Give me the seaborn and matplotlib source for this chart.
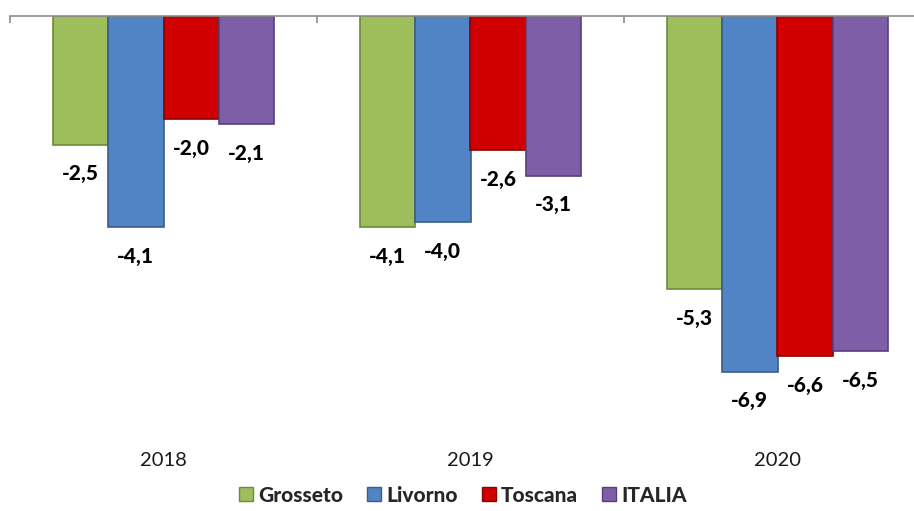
import pandas as pd
import matplotlib.pyplot as plt
import seaborn as sns
from matplotlib.patches import Patch
from matplotlib.ticker import FixedLocator

# Dati
anni = ['2018', '2019', '2020']
aree = ['Grosseto', 'Livorno', 'Toscana', 'ITALIA']
grosseto = [-2.5, -4.1, -5.3]
livorno = [-4.1, -4.0, -6.9]
toscana = [-2.0, -2.6, -6.6]
italia = [-2.1, -3.1, -6.5]
colori = ['#9DBE5B', '#5084C4', '#D00000', '#7D5EA7']
bordi = ['#6E8A3A', '#385D8A', '#8C0000', '#57407A']

serie = [grosseto, livorno, toscana, italia]
righe = []
for area, valori in zip(aree, serie):
    for anno, v in zip(anni, valori):
        righe.append({'anno': anno, 'area': area, 'valore': v})
df = pd.DataFrame(righe)

sns.set_style('white')
plt.rcParams['font.family'] = ['Lato', 'DejaVu Sans']

fig = plt.figure(figsize=(9.14, 5.11), dpi=100)
ax = fig.add_axes([10 / 914, 1 - 444 / 511, 921 / 914, 428 / 511])

sns.barplot(data=df, x='anno', y='valore', hue='area', hue_order=aree,
            order=anni, palette=colori, width=0.72, gap=0, legend=False,
            saturation=1, ax=ax)

for cont, bc in zip(ax.containers, bordi):
    for p in cont:
        p.set_edgecolor(bc)
        p.set_linewidth(1.2)
    etichette = [f"{b.get_height():.1f}".replace('.', ',') for b in cont]
    ax.bar_label(cont, labels=etichette, padding=14, fontsize=15,
                 fontweight='black', color='black')

ax.set_xlim(-0.5, 2.5)
ax.set_ylim(-8.3, 0)
ax.set_xlabel('')
ax.set_ylabel('')
ax.set_yticks([])

for s in ['left', 'right', 'bottom']:
    ax.spines[s].set_visible(False)
ax.spines['top'].set_color('#8C8C8C')
ax.spines['top'].set_linewidth(1.2)

ax.xaxis.set_minor_locator(FixedLocator([-0.5, 0.5, 1.5, 2.5]))
ax.tick_params(axis='x', which='major', bottom=False, top=False,
               labelbottom=True, labelsize=14.5, pad=2, colors='#1a1a1a')
ax.tick_params(axis='x', which='minor', bottom=False, top=True,
               direction='in', length=5, width=1.2, color='#8C8C8C')

maniglie = [Patch(facecolor=c, edgecolor=b, label=a)
            for a, c, b in zip(aree, colori, bordi)]
fig.legend(handles=maniglie, loc='center', bbox_to_anchor=(463 / 914, 1 - 495 / 511),
           ncol=4, frameon=False, handlelength=0.67, handleheight=0.67,
           handletextpad=0.25, columnspacing=1.15,
           prop={'weight': 'black', 'size': 15})

fig.savefig('out.png', dpi=100)
